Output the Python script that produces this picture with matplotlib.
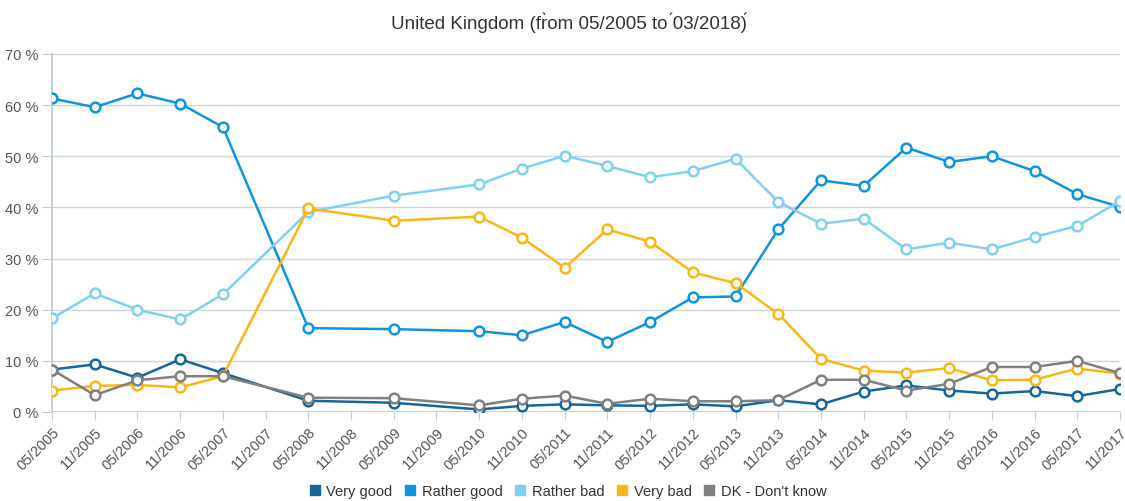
import matplotlib
matplotlib.use("Agg")
import matplotlib.pyplot as plt
from matplotlib.lines import Line2D

plt.rcParams["font.family"] = ["Liberation Sans", "DejaVu Sans"]

categories = ["05/2005", "11/2005", "05/2006", "11/2006", "05/2007", "11/2007",
              "05/2008", "11/2008", "05/2009", "11/2009", "05/2010", "11/2010",
              "05/2011", "11/2011", "05/2012", "11/2012", "05/2013", "11/2013",
              "05/2014", "11/2014", "05/2015", "11/2015", "05/2016", "11/2016",
              "05/2017", "11/2017"]

survey_dates = ["05/2005", "11/2005", "05/2006", "11/2006", "05/2007",
                "05/2008", "05/2009", "05/2010", "11/2010", "05/2011", "11/2011",
                "05/2012", "11/2012", "05/2013", "11/2013", "05/2014", "11/2014",
                "05/2015", "11/2015", "05/2016", "11/2016", "05/2017", "11/2017"]

very_good = [8.3, 9.3, 6.7, 10.3, 7.6, 2.2, 1.8, 0.5, 1.2, 1.5, 1.3, 1.2, 1.5, 1.1,
             2.3, 1.5, 4.0, 5.2, 4.2, 3.6, 4.1, 3.1, 4.5]
rather_good = [61.3, 59.6, 62.3, 60.3, 55.7, 16.4, 16.2, 15.8, 15.0, 17.6, 13.7, 17.6,
               22.4, 22.6, 35.7, 45.3, 44.2, 51.7, 48.9, 50.0, 47.1, 42.6, 40.1]
rather_bad = [18.3, 23.2, 20.0, 18.1, 23.0, 39.1, 42.3, 44.5, 47.6, 50.1, 48.1, 45.9,
              47.1, 49.5, 41.1, 36.8, 37.8, 31.8, 33.1, 31.8, 34.2, 36.4, 41.2]
very_bad = [4.2, 5.1, 5.3, 4.8, 7.0, 39.8, 37.4, 38.2, 34.1, 28.2, 35.7, 33.3,
            27.3, 25.2, 19.2, 10.4, 8.1, 7.7, 8.6, 6.2, 6.3, 8.5, 7.5]
dont_know = [8.3, 3.3, 6.2, 7.0, 7.0, 2.8, 2.7, 1.3, 2.6, 3.2, 1.6, 2.6, 2.1, 2.1,
             2.3, 6.3, 6.3, 4.2, 5.5, 8.8, 8.8, 10.0, 7.6]

series_names = ["Very good", "Rather good", "Rather bad", "Very bad", "DK - Don't know"]
series_values = [very_good, rather_good, rather_bad, very_bad, dont_know]
colors = ["#1565a0", "#0f95e0", "#80d0f4", "#fcb614", "#808080"]

y_ticks = [0, 10, 20, 30, 40, 50, 60, 70]
title = "United Kingdom (fr\u0300om 05/2005 to \u030103/2018)\u0301"

W, H = 1125, 502
fig = plt.figure(figsize=(W / 100, H / 100), dpi=100)
ax = fig.add_axes([52 / W, 1 - 413 / H, (1120 - 52) / W, (413 - 55) / H])

xpos = [categories.index(d) for d in survey_dates]
for name, vals, c in zip(series_names, series_values, colors):
    ax.plot(xpos, vals, color=c, lw=1.8, marker="o", ms=7, mfc="white",
            mec=c, mew=1.8, zorder=3)

ax.set_xlim(0, len(categories) - 1)
ax.set_ylim(0, 70)
ax.set_yticks(y_ticks)
ax.set_yticklabels([f"{t} %" for t in y_ticks])
ax.set_xticks(range(len(categories)))
ax.set_xticklabels(categories, rotation=45, ha="right", rotation_mode="anchor")
ax.grid(axis="y", color="#ccd6dd", lw=1)
ax.set_axisbelow(True)
for s in ["top", "right", "bottom"]:
    ax.spines[s].set_visible(False)
ax.spines["left"].set_color("#c0cdd5")
ax.spines["left"].set_linewidth(1.3)
ax.axhline(0, color="#c0cdd5", lw=1.3, zorder=2)
ax.tick_params(axis="y", length=7, color="#c0cdd5", labelsize=10.5, labelcolor="#555555", pad=3)
ax.tick_params(axis="x", length=6, color="#c0cdd5", labelsize=10.5, labelcolor="#555555", pad=3)

fig.text(569 / W, 1 - 23 / H, title, ha="center", va="center", fontsize=13.5, color="#333333")

handles = [Line2D([], [], ls="none", marker="s", ms=7, color=c) for c in colors]
fig.legend(handles, series_names, loc="center", bbox_to_anchor=(567 / W, 1 - 492 / H),
           ncol=5, frameon=False, fontsize=10.5, handletextpad=0.3, columnspacing=0.7,
           handlelength=1.0, labelcolor="#333333", borderaxespad=0, borderpad=0)

fig.savefig("out.png", dpi=100)
